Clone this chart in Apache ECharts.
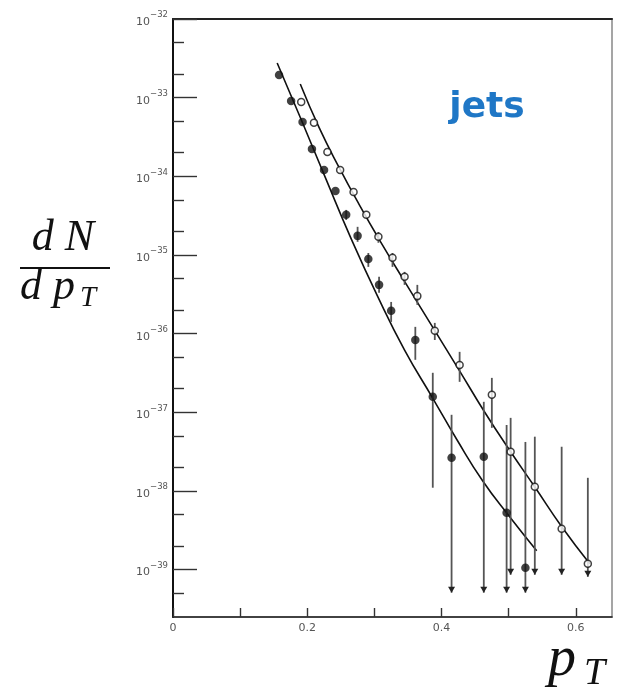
<!DOCTYPE html>
<html><head><meta charset="utf-8">
<script src="https://cdn.jsdelivr.net/npm/echarts@6/dist/echarts.min.js"></script>
<style>html,body{margin:0;padding:0;background:#fff}#c{width:619px;height:690px}</style>
</head><body><div id="c"></div>
<script>
// ---- axis ticks ----
const xTicks = [0, 0.1, 0.2, 0.3, 0.4, 0.5, 0.6];
const xTickLabels = [0, 0.2, 0.4, 0.6];
const yDecades = [1e-39, 1e-38, 1e-37, 1e-36, 1e-35, 1e-34, 1e-33, 1e-32];
const yMinor = [5e-40, 2e-39, 5e-39, 2e-38, 5e-38, 2e-37, 5e-37, 2e-36, 5e-36, 2e-35, 5e-35, 2e-34, 5e-34, 2e-33, 5e-33];
const yMin = 2.5e-40, yMax = 1e-32;

// ---- filled points ----
const filledPt  = [0.158,0.176,0.193,0.207,0.225,0.242,0.258,0.275,0.291,0.307,0.325,0.361,0.387,0.415,0.463,0.497,0.525];
const filledVal = [1.94e-33,9.1e-34,4.9e-34,2.23e-34,1.2e-34,6.5e-35,3.24e-35,1.75e-35,8.9e-36,4.17e-36,1.95e-36,8.3e-37,1.58e-37,2.64e-38,2.72e-38,5.3e-39,1.06e-39];
const filledHi  = [null,null,null,null,null,null,3.74e-35,2.28e-35,1.06e-35,5.27e-36,2.53e-36,1.22e-36,3.18e-37,9.3e-38,1.36e-37,6.9e-38,4.2e-38];
const filledLo  = [null,null,null,null,null,null,2.79e-35,1.47e-35,7.06e-36,3.3e-36,1.41e-36,4.65e-37,1.1e-38,5.1e-40,5.1e-40,5.1e-40,5.1e-40];
const filledUL  = [0,0,0,0,0,0,0,0,0,0,0,0,0,1,1,1,1];

// ---- open points ----
const openPt  = [0.191,0.210,0.230,0.249,0.269,0.288,0.306,0.327,0.345,0.364,0.390,0.427,0.475,0.503,0.539,0.579,0.618];
const openVal = [8.8e-34,4.8e-34,2.04e-34,1.2e-34,6.3e-35,3.24e-35,1.7e-35,9.2e-36,5.3e-36,3.0e-36,1.09e-36,4.0e-37,1.67e-37,3.15e-38,1.13e-38,3.3e-39,1.19e-39];
const openHi  = [null,null,null,null,null,null,1.96e-35,1.06e-35,6.1e-36,4.17e-36,1.37e-36,5.87e-37,2.74e-37,8.5e-38,4.9e-38,3.65e-38,1.47e-38];
const openLo  = [null,null,null,null,null,null,1.43e-35,7.06e-36,4.17e-36,2.32e-36,8.3e-37,2.44e-37,6.35e-38,8.6e-40,8.6e-40,8.6e-40,8.1e-40];
const openUL  = [0,0,0,0,0,0,0,0,0,0,0,0,0,1,1,1,1];

// ---- curves ----
const lowerCurvePt  = [0.1552,0.1925,0.2284,0.2642,0.3045,0.3448,0.3866,0.4239,0.4612,0.5015,0.5418];
const lowerCurveVal = [2.76e-33,4.91e-34,9.0e-35,1.70e-35,3.02e-36,6.22e-37,1.53e-37,4.35e-38,1.35e-38,4.70e-39,1.74e-39];
const upperCurvePt  = [0.1896,0.2179,0.2478,0.2776,0.3075,0.3463,0.3866,0.4269,0.4642,0.5030,0.5388,0.5791,0.6209];
const upperCurveVal = [1.49e-33,4.12e-34,1.28e-34,4.34e-35,1.56e-35,4.42e-36,1.22e-36,3.37e-37,1.01e-37,3.15e-38,1.13e-38,3.51e-39,1.19e-39];

const L = Math.log10;
const pairs = (xs, vs) => xs.map((x, i) => [x, L(vs[i])]);
const errData = (xs, hi, lo, ul) => xs.map((x, i) => hi[i] == null ? null : [x, L(hi[i]), L(lo[i]), ul[i]]).filter(d => d);

function renderErr(params, api) {
  const x = api.value(0);
  const top = api.coord([x, api.value(1)]);
  const bot = api.coord([x, api.value(2)]);
  const children = [{
    type: 'line',
    shape: { x1: top[0], y1: top[1], x2: bot[0], y2: bot[1] },
    style: { stroke: '#555', lineWidth: 1.8 }
  }];
  if (api.value(3)) {
    children.push({
      type: 'polygon',
      shape: { points: [[bot[0] - 3.5, bot[1] - 6], [bot[0] + 3.5, bot[1] - 6], [bot[0], bot[1]]] },
      style: { fill: '#222' }
    });
  }
  return { type: 'group', children };
}

const chart = echarts.init(document.getElementById('c'), null, { renderer: 'canvas' });
const serif = '"Liberation Serif", "DejaVu Serif", serif';
chart.setOption({
  animation: false,
  backgroundColor: '#fff',
  grid: { left: 173, right: 7, top: 19, bottom: 73, show: true, borderColor: '#888', borderWidth: 1.5, backgroundColor: 'transparent' },
  xAxis: [{
    type: 'value', min: 0, max: 0.654,
    axisLine: { show: true, lineStyle: { color: '#222', width: 1.6 } },
    axisTick: { show: true, inside: true, length: 9, customValues: xTicks, lineStyle: { color: '#333', width: 1.4 } },
    axisLabel: { customValues: xTickLabels, margin: 6, color: '#555', fontSize: 11, fontFamily: 'DejaVu Sans', formatter: v => String(v) },
    splitLine: { show: false }
  }, {
    type: 'value', min: 0, max: 0.654, position: 'top',
    axisLine: { show: true, lineStyle: { color: '#222', width: 2 } },
    axisTick: { show: false }, axisLabel: { show: false }, splitLine: { show: false }
  }],
  yAxis: [{
    type: 'value', min: L(yMin), max: L(yMax),
    axisLine: { show: true, lineStyle: { color: '#111', width: 2 } },
    axisTick: { show: true, inside: true, length: 24, customValues: yDecades.map(L), lineStyle: { color: '#333', width: 1.4 } },
    axisLabel: {
      customValues: yDecades.map(L), margin: 5,
      formatter: v => '{b|10}{s|\u2212' + Math.round(-v) + '}',
      rich: {
        b: { fontSize: 11, color: '#555', fontFamily: 'DejaVu Sans', lineHeight: 17, verticalAlign: 'bottom' },
        s: { fontSize: 8.5, color: '#555', fontFamily: 'DejaVu Sans', lineHeight: 10, verticalAlign: 'top' }
      }
    },
    splitLine: { show: false }
  }, {
    type: 'value', min: L(yMin), max: L(yMax), position: 'left',
    axisLine: { show: false },
    axisTick: { show: true, inside: true, length: 11, customValues: yMinor.map(L), lineStyle: { color: '#333', width: 1.4 } },
    axisLabel: { show: false }, splitLine: { show: false }
  }],
  series: [
    { type: 'line', data: pairs(lowerCurvePt, lowerCurveVal), smooth: 0.5, showSymbol: false, lineStyle: { color: '#111', width: 1.6 }, z: 2 },
    { type: 'line', data: pairs(upperCurvePt, upperCurveVal), smooth: 0.5, showSymbol: false, lineStyle: { color: '#111', width: 1.6 }, z: 2 },
    { type: 'custom', renderItem: renderErr, data: errData(filledPt, filledHi, filledLo, filledUL), encode: { x: 0, y: [1, 2] }, z: 3 },
    { type: 'custom', renderItem: renderErr, data: errData(openPt, openHi, openLo, openUL), encode: { x: 0, y: [1, 2] }, z: 3 },
    { type: 'scatter', data: pairs(filledPt, filledVal), symbol: 'circle', symbolSize: 8.5, itemStyle: { color: '#111' }, z: 4 },
    { type: 'scatter', data: pairs(openPt, openVal), symbol: 'circle', symbolSize: 7, itemStyle: { color: '#fff', borderColor: '#111', borderWidth: 1.5 }, z: 4 }
  ],
  graphic: [
    { type: 'text', x: 487, y: 108, style: { text: 'jets', fill: '#1f77c6', font: 'bold 36px "DejaVu Sans"', align: 'center', verticalAlign: 'middle' } },
    { type: 'text', x: 63, y: 238, style: { text: 'd N', fill: '#111', font: 'italic 44px ' + serif, align: 'center', verticalAlign: 'middle' } },
    { type: 'line', shape: { x1: 20, y1: 268, x2: 110, y2: 268 }, style: { stroke: '#111', lineWidth: 2 } },
    { type: 'text', x: 20, y: 287, style: { text: 'd p', fill: '#111', font: 'italic 44px ' + serif, align: 'left', verticalAlign: 'middle' } },
    { type: 'text', x: 80, y: 298, style: { text: 'T', fill: '#111', font: 'italic 29px ' + serif, align: 'left', verticalAlign: 'middle' } },
    { type: 'text', x: 548, y: 660, style: { text: 'p', fill: '#111', font: 'italic 56px ' + serif, align: 'left', verticalAlign: 'middle' } },
    { type: 'text', x: 584, y: 674, style: { text: 'T', fill: '#111', font: 'italic 38px ' + serif, align: 'left', verticalAlign: 'middle' } }
  ]
});
</script>
</body></html>
